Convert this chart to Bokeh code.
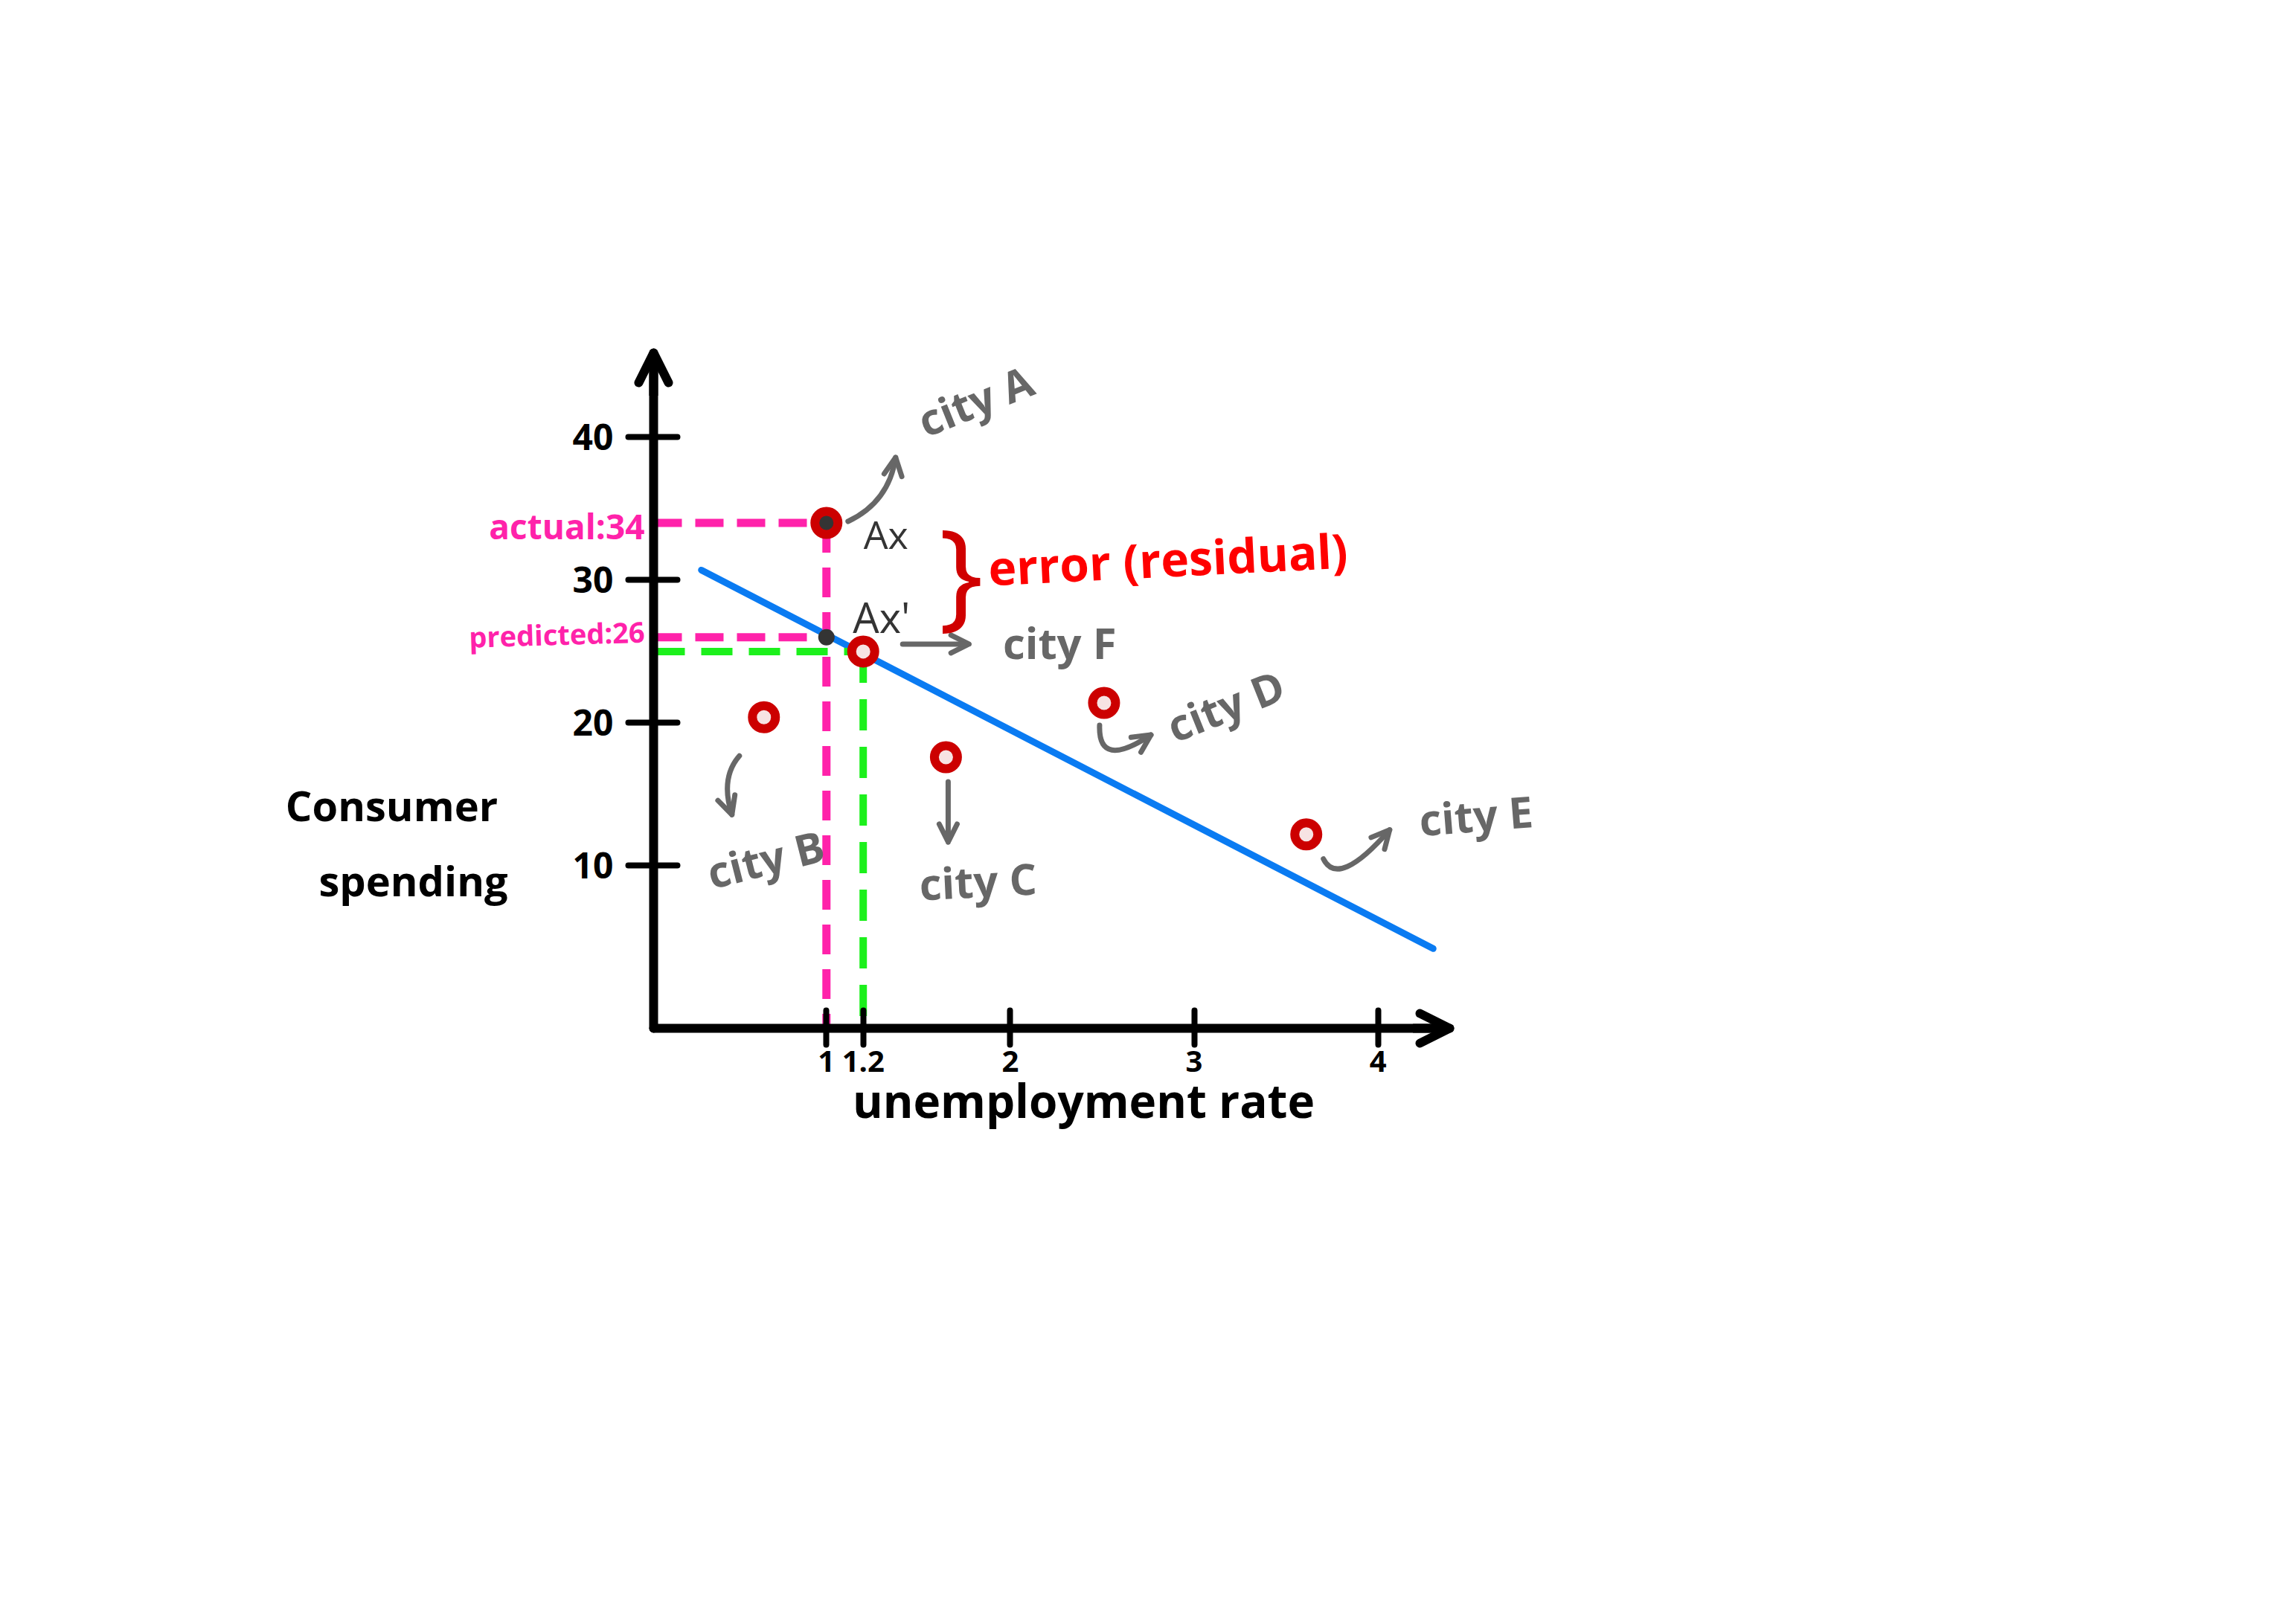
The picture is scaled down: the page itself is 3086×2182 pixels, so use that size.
from bokeh.plotting import figure
from bokeh.models import (Range1d, FixedTicker, CustomJSTickFormatter, Label,
                          Arrow, OpenHead)
from bokeh.embed import file_html
from bokeh.resources import INLINE

# ---------------- data ----------------
city_names = ["city A", "city B", "city C", "city D", "city E", "city F"]
unemployment = [1.0, 0.66, 1.65, 2.51, 3.61, 1.2]      # x values
spending = [34, 20.4, 17.6, 21.4, 12.2, 25]            # y values
predicted_A = 26                                        # fitted value for city A
fit_x = [0.32, 4.30]                                    # regression line ends
fit_y = [30.7, 4.2]
x_ticks = [1, 1.2, 2, 3, 4]
y_ticks = [10, 20, 30, 40]
x_title = "unemployment rate"
y_title = ["Consumer", "spending"]
actual_text = "actual:34"
predicted_text = "predicted:26"
error_text = "error (residual)"

# ---------------- layout ----------------
W, H = 3064, 2160
OX, OY = 878, 1382            # canvas pixel of the axes' origin (from top-left)
AX_X, AX_Y = 0.06, -1.38      # data value where the axes cross
X_TIP, Y_TIP = 4.39, 45.9     # data value of the arrow tips
FW, FH = 1070, 908            # axis lengths in pixels
SX = FW / (X_TIP - AX_X)
SY = FH / (Y_TIP - AX_Y)
x_range = Range1d(AX_X - OX / SX, AX_X + (W - OX) / SX)
y_range = Range1d(AX_Y - (H - OY) / SY, AX_Y + OY / SY)
FONT = "Open Sans"

GRAY = "#676767"
DARK = "#343434"
PINK = "#FF22AA"
GREEN = "#1CF01C"
BLUE = "#0A7BF2"
RED = "#CC0000"


def off(x, y, dx, dy):
    return x + dx / SX, y + dy / SY


p = figure(width=W, height=H, x_range=x_range, y_range=y_range,
           output_backend="svg", toolbar_location=None,
           min_border_left=0, min_border_right=0,
           min_border_top=0, min_border_bottom=0)
p.outline_line_color = None
p.grid.visible = False
p.background_fill_color = "white"
p.border_fill_color = "white"

# ---------------- axes ----------------
xa = p.xaxis[0]
xa.fixed_location = AX_Y
xa.bounds = (AX_X, X_TIP)
xa.ticker = FixedTicker(ticks=x_ticks)
xa.formatter = CustomJSTickFormatter(code="return tick.toString();")
ya = p.yaxis[0]
ya.fixed_location = AX_X
ya.bounds = (AX_Y, Y_TIP)
ya.ticker = FixedTicker(ticks=y_ticks)
for a in (xa, ya):
    a.axis_line_width = 12
    a.axis_line_color = "black"
    a.axis_line_cap = "round"
    a.major_tick_line_width = 8
    a.major_tick_line_color = "black"
    a.major_tick_line_cap = "round"
    a.minor_tick_line_color = None
    a.major_label_text_font = FONT
    a.major_label_text_font_style = "bold"
    a.major_label_text_color = "black"
xa.major_tick_in = 24
xa.major_tick_out = 22
xa.major_label_text_font_size = "40px"
xa.major_label_standoff = 8
ya.major_tick_in = 32
ya.major_tick_out = 34
ya.major_label_text_font_size = "48px"
ya.major_label_standoff = 20

# axis arrow heads
p.add_layout(Arrow(end=OpenHead(size=40, line_width=12, line_color="black",
                                line_cap="round", line_join="round"),
                   x_start=AX_X, y_start=Y_TIP - 3, x_end=AX_X, y_end=Y_TIP,
                   line_width=12, line_color="black"))
p.add_layout(Arrow(end=OpenHead(size=40, line_width=12, line_color="black",
                                line_cap="round", line_join="round"),
                   x_start=X_TIP - 0.2, y_start=AX_Y, x_end=X_TIP, y_end=AX_Y,
                   line_width=12, line_color="black"))

# ---------------- regression line ----------------
p.line(fit_x, fit_y, line_color=BLUE, line_width=9, line_cap="round")

# ---------------- dashed guides ----------------
ax, ay = unemployment[0], spending[0]
fx, fy = unemployment[5], spending[5]
p.line([AX_X, ax], [ay, ay], line_color=PINK, line_width=11, line_dash="38 18")
p.line([ax, ax], [ay, AX_Y], line_color=PINK, line_width=11, line_dash="40 20")
p.line([AX_X, ax], [predicted_A, predicted_A], line_color=PINK, line_width=11,
       line_dash="38 18")
p.line([AX_X, fx], [fy, fy], line_color=GREEN, line_width=10, line_dash="42 22")
p.line([fx, fx], [fy, AX_Y], line_color=GREEN, line_width=10, line_dash="42 22")

# ---------------- points ----------------
fills = [DARK] + ["#F7E3E3"] * (len(city_names) - 1)
p.scatter(unemployment, spending, size=31, line_width=12, line_color=RED,
          fill_color=fills)
p.scatter([ax], [predicted_A], size=22, fill_color=DARK, line_color=None)


# ---------------- annotations ----------------
def label(x, y, text, dx, dy, size, color, angle=0.0, align="center",
          style="bold"):
    p.add_layout(Label(x=x, y=y, x_offset=dx, y_offset=dy, text=text,
                       text_font=FONT, text_font_size=f"{size}px",
                       text_font_style=style,
                       text_color=color, angle=angle, text_align=align,
                       text_baseline="middle"))


def curved_arrow(x, y, s, c, e):
    x0, y0 = off(x, y, *s)
    cx, cy = off(x, y, *c)
    x1, y1 = off(x, y, *e)
    p.quadratic(x0=[x0], y0=[y0], x1=[x1], y1=[y1], cx=[cx], cy=[cy],
                line_color=GRAY, line_width=7, line_cap="round")
    hx, hy = x1 - 0.25 * (x1 - cx), y1 - 0.25 * (y1 - cy)
    p.add_layout(Arrow(end=OpenHead(size=24, line_width=7, line_color=GRAY,
                                    line_cap="round", line_join="round"),
                       x_start=hx, y_start=hy, x_end=x1, y_end=y1,
                       line_alpha=0))


def straight_arrow(x, y, s, e):
    x0, y0 = off(x, y, *s)
    x1, y1 = off(x, y, *e)
    p.add_layout(Arrow(end=OpenHead(size=24, line_width=7, line_color=GRAY,
                                    line_cap="round", line_join="round"),
                       x_start=x0, y_start=y0, x_end=x1, y_end=y1,
                       line_color=GRAY, line_width=7, line_cap="round"))


# label offsets in screen pixels relative to each city point
label_style = {
    "city A": dict(dx=200, dy=165, angle=0.38),
    "city B": dict(dx=2, dy=-190, angle=0.25),
    "city C": dict(dx=43, dy=-166, angle=0.05),
    "city D": dict(dx=163, dy=-3, angle=0.38),
    "city E": dict(dx=228, dy=26, angle=0.08),
    "city F": dict(dx=264, dy=12, angle=0.0),
}
for name, cx_, cy_ in zip(city_names, unemployment, spending):
    st = label_style[name]
    label(cx_, cy_, name, st["dx"], st["dy"], 58, GRAY, st["angle"])

# pointer arrows
curved_arrow(unemployment[0], spending[0], (29, 2), (84, 28), (93, 88))      # A
curved_arrow(unemployment[1], spending[1], (-33, -52), (-59, -82), (-43, -131))  # B
straight_arrow(unemployment[2], spending[2], (3, -33), (3, -114))             # C
curved_arrow(unemployment[3], spending[3], (-6, -30), (-8, -90), (63, -43))   # D
curved_arrow(unemployment[4], spending[4], (23, -33), (43, -73), (112, 6))    # E
straight_arrow(unemployment[5], spending[5], (53, 10), (142, 10))             # F

# point names
label(ax, ay, "Ax", 80, -14, 52, DARK, style="normal")
label(ax, predicted_A, "Ax'", 74, 28, 56, DARK, style="normal")

# residual brace and text
label(ax, ay, "}", 181, -62, 160, "#D00000", style="normal")
label(ax, ay, error_text, 459, -48, 64, "#FF0000", 0.05)

# guide value labels
label(AX_X, ay, actual_text, -12, -4, 46, PINK, 0.0, "right")
label(AX_X, predicted_A, predicted_text, -12, 8, 38, PINK, 0.03, "right")

# axis titles
label(AX_X, AX_Y, x_title, 578, -96, 62, "black")
label(AX_X, 10, y_title[0], -352, 82, 56, "black")
label(AX_X, 10, y_title[1], -323, -19, 56, "black")

open("out.html", "w").write(file_html(p, INLINE))
